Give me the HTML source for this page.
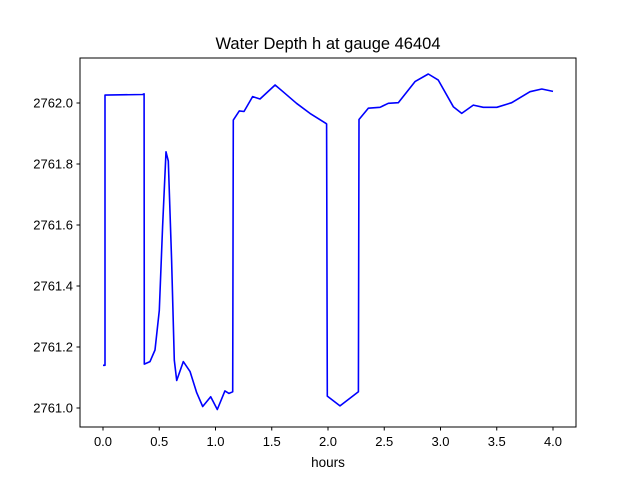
<!DOCTYPE html>
<html><head><meta charset="utf-8"><style>
body{margin:0;background:#fff;}
svg text{font-family:"Liberation Sans","DejaVu Sans",sans-serif;fill:#000;}
</style></head><body>
<svg id="chart" width="640" height="480" xmlns="http://www.w3.org/2000/svg">
<rect width="640" height="480" fill="#fff"/>
<text x="328" y="49" font-size="16.5" text-anchor="middle">Water Depth h at gauge 46404</text>
<g id="ticks"></g>
<path id="series" fill="none" stroke="#0000ff" stroke-width="1.6" stroke-linejoin="round"/>
<rect x="80" y="58" width="496" height="369" fill="none" stroke="#000" stroke-width="1"/>
<text x="328" y="467" font-size="13.5" text-anchor="middle">hours</text>
</svg>
<script>
const times=[0,0.018,0.018,0.353,0.365,0.367,0.418,0.462,0.5,0.53,0.56,0.58,0.61,0.634,0.655,0.714,0.773,0.833,0.886,0.957,1.016,1.084,1.12,1.153,1.158,1.212,1.253,1.33,1.396,1.53,1.6,1.72,1.84,1.982,1.988,1.994,2.107,2.27,2.276,2.358,2.462,2.536,2.625,2.773,2.892,2.98,3.114,3.188,3.292,3.38,3.5,3.633,3.796,3.9,4.0];
const depths=[2761.14,2761.14,2762.026,2762.028,2762.03,2761.144,2761.152,2761.19,2761.32,2761.595,2761.84,2761.81,2761.485,2761.157,2761.09,2761.152,2761.12,2761.05,2761.005,2761.037,2760.995,2761.056,2761.048,2761.053,2761.944,2761.974,2761.972,2762.021,2762.013,2762.059,2762.037,2761.999,2761.966,2761.933,2761.931,2761.039,2761.007,2761.053,2761.946,2761.983,2761.986,2761.999,2762.001,2762.07,2762.095,2762.075,2761.988,2761.966,2761.993,2761.986,2761.986,2762.001,2762.037,2762.046,2762.038];
const xTicks=[0,0.5,1,1.5,2,2.5,3,3.5,4];
const xTickLabels=["0.0","0.5","1.0","1.5","2.0","2.5","3.0","3.5","4.0"];
const yTicks=[2761.0,2761.2,2761.4,2761.6,2761.8,2762.0];
const yTickLabels=["2761.0","2761.2","2761.4","2761.6","2761.8","2762.0"];
const xs=t=>103+112.5*t;
const ys=h=>103+(2762-h)*305;
const NS="http://www.w3.org/2000/svg";
const g=document.getElementById('ticks');
xTicks.forEach((t,i)=>{
  const l=document.createElementNS(NS,'line');
  l.setAttribute('x1',xs(t));l.setAttribute('x2',xs(t));l.setAttribute('y1',427);l.setAttribute('y2',430.5);l.setAttribute('stroke','#000');
  
  
  g.appendChild(l);
  const tx=document.createElementNS(NS,'text');
  tx.setAttribute('x',xs(t));tx.setAttribute('y',446);tx.setAttribute('font-size','13');tx.setAttribute('text-anchor','middle');
  tx.textContent=xTickLabels[i];
  
  
  g.appendChild(tx);
});
yTicks.forEach((v,i)=>{
  const l=document.createElementNS(NS,'line');
  l.setAttribute('x1',76.5);l.setAttribute('x2',80);l.setAttribute('y1',ys(v));l.setAttribute('y2',ys(v));l.setAttribute('stroke','#000');
  
  
  g.appendChild(l);
  const tx=document.createElementNS(NS,'text');
  tx.setAttribute('x',73);tx.setAttribute('y',ys(v)+4.5);tx.setAttribute('font-size','13');tx.setAttribute('text-anchor','end');
  tx.textContent=yTickLabels[i];
  
  
  g.appendChild(tx);
});
document.getElementById('series').setAttribute('d',times.map((t,i)=>(i?'L':'M')+xs(t).toFixed(1)+' '+ys(depths[i]).toFixed(1)).join(' '));
</script>
</body></html>
